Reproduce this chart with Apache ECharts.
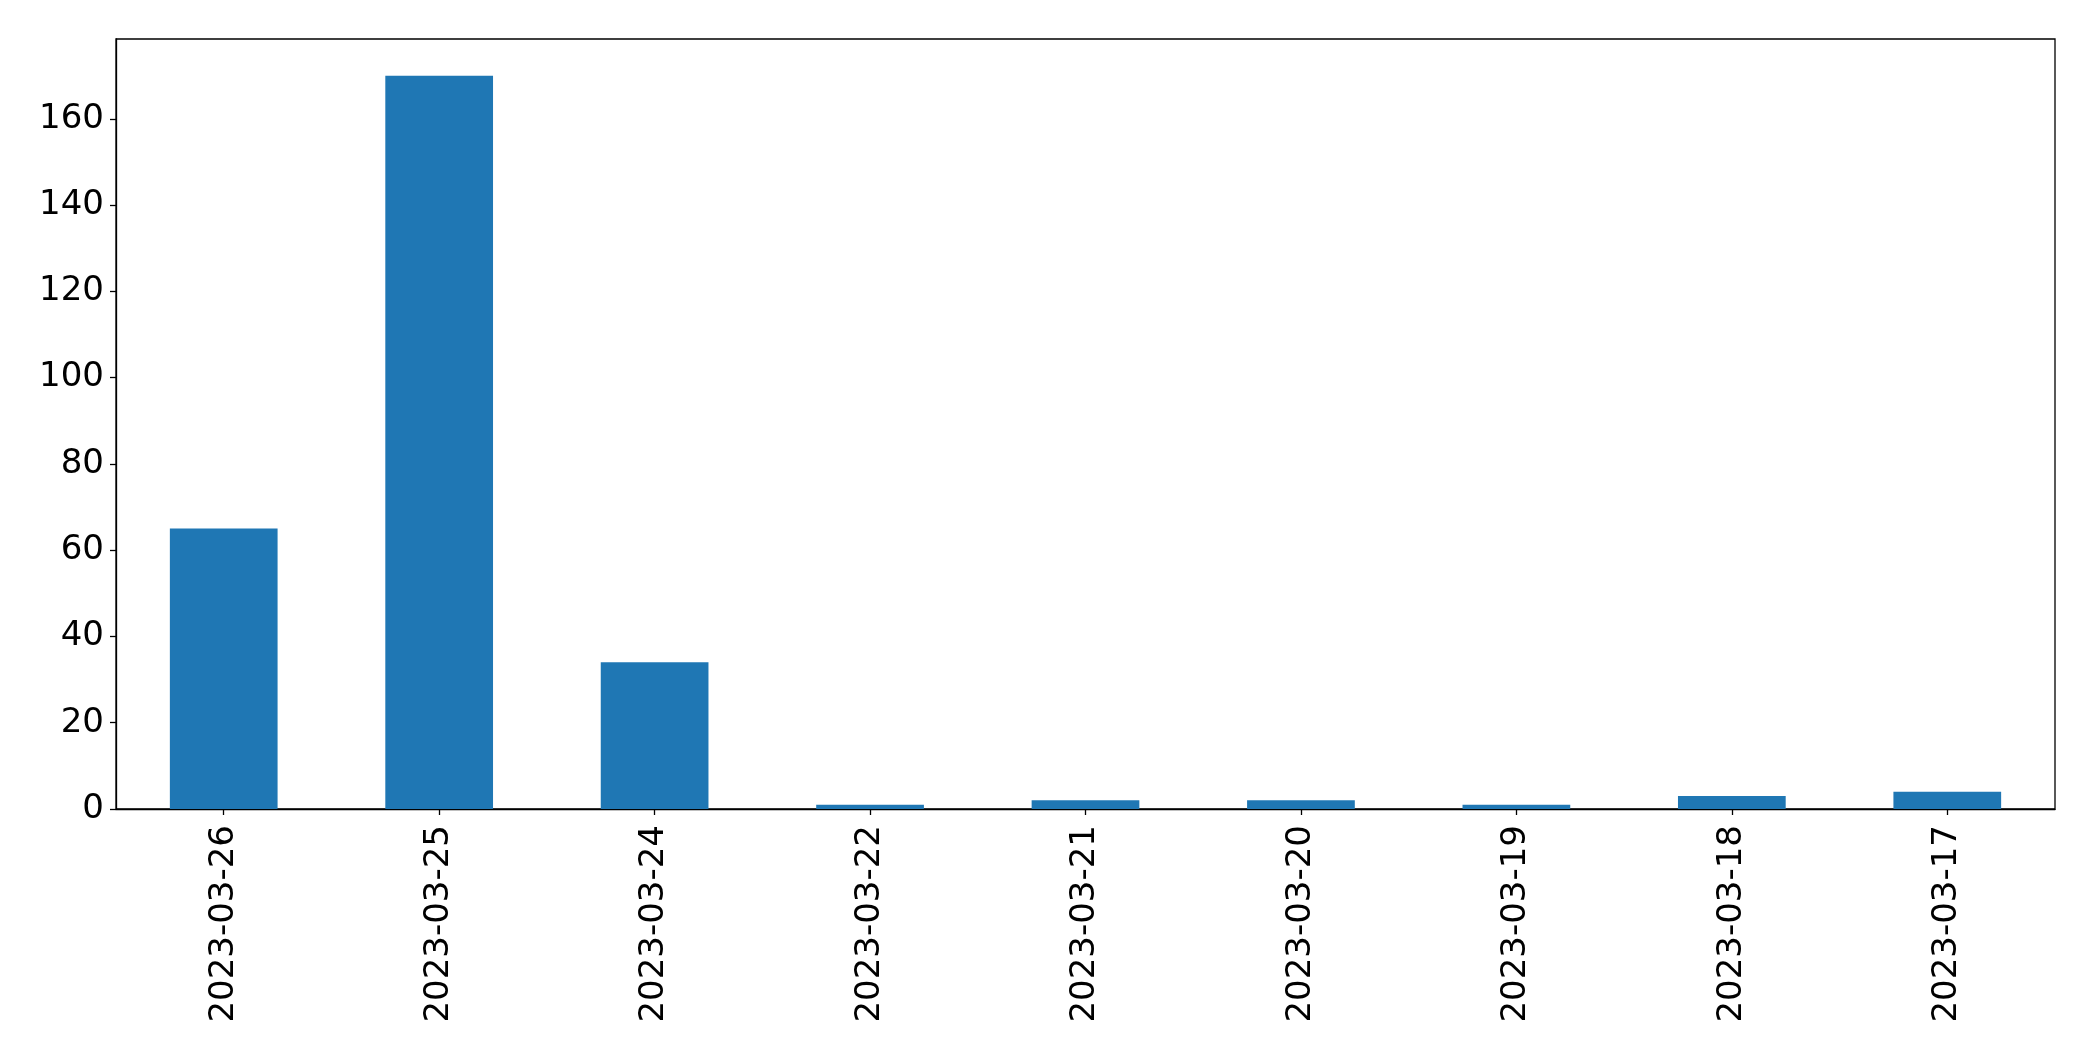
<!DOCTYPE html>
<html>
<head>
<meta charset="utf-8">
<script src="https://cdn.jsdelivr.net/npm/echarts@6/dist/echarts.min.js"></script>
<style>
html,body{margin:0;padding:0;background:#fff;}
#chart{width:2093px;height:1061px;}
</style>
</head>
<body>
<div id="chart"></div>
<script>
const categories = ['2023-03-26','2023-03-25','2023-03-24','2023-03-22','2023-03-21','2023-03-20','2023-03-19','2023-03-18','2023-03-17'];
const values = [65, 170, 34, 1, 2, 2, 1, 3, 4];
const yTicks = [0, 20, 40, 60, 80, 100, 120, 140, 160];

const chart = echarts.init(document.getElementById('chart'), null, {renderer:'canvas'});
const font = 'DejaVu Sans';
chart.setOption({
  animation: false,
  backgroundColor: '#ffffff',
  grid: {left:116, top:39, right:38, bottom:252, show:true, borderColor:'#000', borderWidth:1.3, backgroundColor:'transparent'},
  xAxis: {
    type:'category',
    data: categories,
    axisLine:{show:true, lineStyle:{color:'#000', width:1.3}},
    axisTick:{show:true, alignWithLabel:true, length:6, lineStyle:{color:'#000', width:1.3}},
    axisLabel:{rotate:90, margin:16, color:'#000', fontSize:34, fontFamily:font, interval:0}
  },
  yAxis: {
    type:'value',
    min:0, max:178.5, interval:20,
    splitLine:{show:false},
    axisLine:{show:true, lineStyle:{color:'#000', width:1.3}},
    axisTick:{show:true, length:6, lineStyle:{color:'#000', width:1.3}},
    axisLabel:{margin:12, color:'#000', fontSize:34, fontFamily:font, showMaxLabel:false,
      formatter: v => yTicks.includes(v) ? String(v) : ''}
  },
  series: [{
    type:'bar',
    data: values,
    barWidth:'50%',
    itemStyle:{color:'#1f77b4'}
  }]
});
</script>
</body>
</html>
